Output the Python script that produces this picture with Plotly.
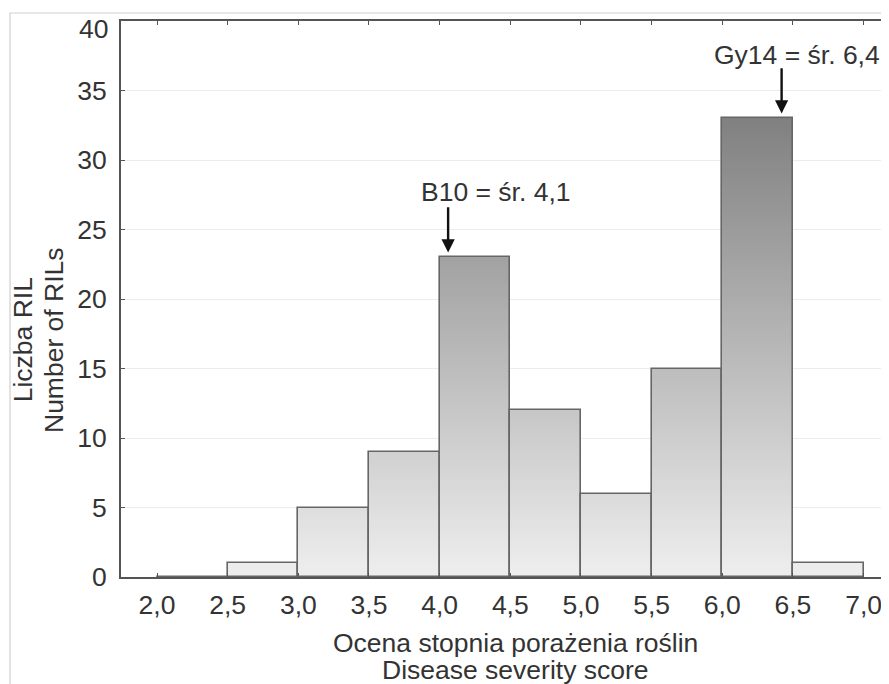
import plotly.graph_objects as go

# ---- data ----
bin_left = [2.0, 2.5, 3.0, 3.5, 4.0, 4.5, 5.0, 5.5, 6.0, 6.5]
counts = [0, 1, 5, 9, 23, 12, 6, 15, 33, 1]
bin_width = 0.5
x_tickvals = [2.0, 2.5, 3.0, 3.5, 4.0, 4.5, 5.0, 5.5, 6.0, 6.5, 7.0]
x_ticktext = ["2,0", "2,5", "3,0", "3,5", "4,0", "4,5", "5,0", "5,5", "6,0", "6,5", "7,0"]
y_tickvals = [0, 5, 10, 15, 20, 25, 30, 35, 40]
y_ticktext = ["0", "5", "10", "15", "20", "25", "30", "35", "40"]
marker_labels = ["B10 = śr. 4,1", "Gy14 = śr. 6,4"]
marker_x = [4.06, 6.42]
marker_y = [23, 33]

FONT = "Liberation Sans, Arial, sans-serif"
TXT = "#333333"
FS = 26.5

centers = [b + bin_width / 2 for b in bin_left]

# gradient fill built from layered bars (light at bottom, darker higher up)
g_lo, g_hi, y_top = 238, 128, 33.0
step = 0.25
seg_x, seg_base, seg_y, seg_c = [], [], [], []
lvl = 0.0
while lvl < max(counts):
    g = round(g_lo - (g_lo - g_hi) * lvl / y_top)
    for cx, c in zip(centers, counts):
        if c > lvl:
            seg_x.append(cx)
            seg_base.append(lvl)
            seg_y.append(c - lvl)
            seg_c.append(f"rgb({g},{g},{g})")
    lvl += step

fig = go.Figure()
fig.add_trace(go.Bar(x=seg_x, y=seg_y, base=seg_base, width=bin_width,
                     marker=dict(color=seg_c, line=dict(width=0)),
                     hoverinfo="skip", showlegend=False))
fig.add_trace(go.Bar(x=centers, y=counts, width=bin_width,
                     marker=dict(color="rgba(0,0,0,0)", line=dict(color="#666666", width=1.6)),
                     showlegend=False))

for lab, mx, my in zip(marker_labels, marker_x, marker_y):
    fig.add_annotation(x=mx, y=my + 0.35, ax=mx, ay=my + 3.7, axref="x", ayref="y",
                       xref="x", yref="y", text="", showarrow=True,
                       arrowhead=2, arrowsize=1.1, arrowwidth=2.4, arrowcolor="#111111")

ann_font = dict(family=FONT, size=FS, color=TXT)
fig.add_annotation(x=4.40, y=27.7, xref="x", yref="y", text=marker_labels[0], showarrow=False,
                   xanchor="center", yanchor="middle", font=ann_font)
fig.add_annotation(x=6.53, y=37.55, xref="x", yref="y", text=marker_labels[1], showarrow=False,
                   xanchor="center", yanchor="middle", font=ann_font)

# top tick label drawn slightly lower (as in the original) so it stays inside the page
fig.add_annotation(x=0, y=y_tickvals[-1], xref="paper", yref="y", text=y_ticktext[-1],
                   showarrow=False, xanchor="right", yanchor="middle", xshift=-11, yshift=-8,
                   font=ann_font)

# axis titles as separate lines
fig.add_annotation(x=-0.128, y=0.427, xref="paper", yref="paper", text="Liczba RIL",
                   textangle=-90, showarrow=False, xanchor="center", yanchor="middle", font=ann_font)
fig.add_annotation(x=-0.088, y=0.427, xref="paper", yref="paper", text="Number of RILs",
                   textangle=-90, showarrow=False, xanchor="center", yanchor="middle", font=ann_font)
fig.add_annotation(x=0.514, y=-0.118, xref="paper", yref="paper", text="Ocena stopnia porażenia roślin",
                   showarrow=False, xanchor="center", yanchor="middle", font=ann_font)
fig.add_annotation(x=0.514, y=-0.167, xref="paper", yref="paper", text="Disease severity score",
                   showarrow=False, xanchor="center", yanchor="middle", font=ann_font)

# outer light frame
fig.add_shape(type="rect", xref="paper", yref="paper", x0=-0.1445, y0=-0.3, x1=1.2, y1=1.0144,
              line=dict(color="#cfcfcf", width=1.2), fillcolor="rgba(0,0,0,0)", layer="below")

# page body has an 8px margin, so offsets are compensated here
fig.update_layout(
    width=889, height=684,
    margin=dict(l=113, r=8, t=13, b=115, autoexpand=False),
    paper_bgcolor="white", plot_bgcolor="white",
    barmode="overlay", bargap=0,
    font=dict(family=FONT, size=FS, color=TXT),
)
fig.update_xaxes(range=[1.745, 7.18], tickvals=x_tickvals, ticktext=x_ticktext,
                 showline=True, linecolor="#555555", linewidth=2, mirror="ticks",
                 ticks="inside", ticklen=4, tickcolor="#555555", showgrid=False,
                 zeroline=False, ticklabelstandoff=3, automargin=False,
                 ticklabeloverflow="allow", tickfont=dict(size=FS, color=TXT))
fig.update_yaxes(range=[0, 40], tickvals=y_tickvals,
                 ticktext=y_ticktext[:-1] + [""],
                 showline=True, linecolor="#555555", linewidth=2, mirror="ticks",
                 ticks="inside", ticklen=4, tickcolor="#555555",
                 showgrid=True, gridcolor="#ececec", gridwidth=1, zeroline=False,
                 ticklabelstandoff=7, automargin=False,
                 ticklabeloverflow="allow", tickfont=dict(size=FS, color=TXT))

fig.write_html("out.html")
